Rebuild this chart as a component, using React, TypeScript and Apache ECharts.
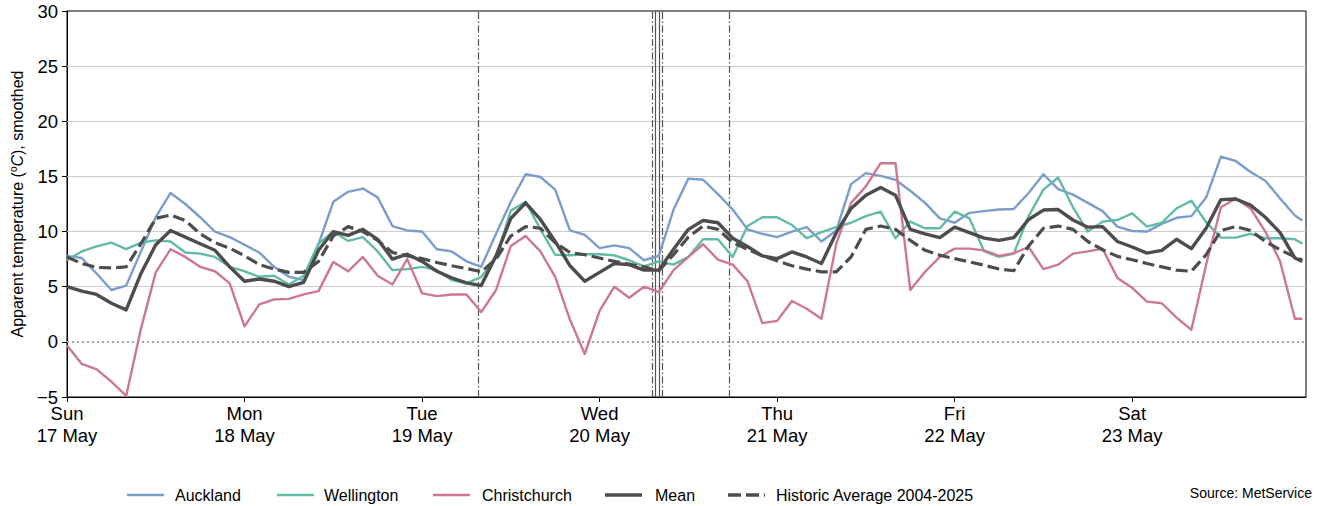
import React, { useEffect, useRef } from 'react';
import * as echarts from 'echarts';

// Hours since Sun 17 May 00:00
const HOURS = [
  0, 2, 4, 6, 8, 10, 12, 14, 16, 18, 20, 22, 24, 26, 28, 30, 32,
  34, 36, 38, 40, 42, 44, 46, 48, 50, 52, 54, 56, 58, 60, 62, 64,
  66, 68, 70, 72, 74, 76, 78, 80, 82, 84, 86, 88, 90, 92, 94, 96,
  98, 100, 102, 104, 106, 108, 110, 112, 114, 116, 118, 120, 122, 124, 126, 128, 130,
  132, 134, 136, 138, 140, 142, 144, 146, 148, 150, 152, 154, 156, 158, 160, 162, 164, 166, 167,
];

const AUCKLAND = [
  7.8, 7.6, 6.2, 4.7, 5.1, 8.2, 11.3, 13.5, 12.5, 11.3, 10.0, 9.5, 8.8, 8.1, 6.8, 5.9, 5.6,
  8.85, 12.7, 13.6, 13.9, 13.1, 10.5, 10.1, 10.0, 8.4, 8.2, 7.3, 6.8, 9.8, 12.7, 15.2, 14.95,
  13.8, 10.1, 9.7, 8.5, 8.75, 8.5, 7.4, 7.8, 12.0, 14.8, 14.7, 13.4, 12.0, 10.2, 9.8, 9.5,
  10.0, 10.4, 9.1, 10.1, 14.3, 15.3, 15.05, 14.7, 13.7, 12.6, 11.2, 10.8, 11.7, 11.85, 12.0, 12.05, 13.5,
  15.2, 13.85, 13.35, 12.6, 11.85, 10.45, 10.05, 10.0, 10.7, 11.25, 11.4, 13.1, 16.8, 16.4, 15.4, 14.6, 13.0, 11.45, 11.0,
];

const WELLINGTON = [
  7.4, 8.2, 8.65, 9.0, 8.4, 9.0, 9.2, 9.1, 8.1, 8.0, 7.7, 6.8, 6.4, 5.9, 6.0, 5.2, 6.0,
  8.9, 10.0, 9.15, 9.5, 8.2, 6.5, 6.6, 6.8, 6.5, 5.6, 5.3, 5.9, 7.6, 11.9, 12.7, 10.2,
  7.9, 7.85, 7.95, 7.95, 7.85, 7.4, 6.85, 7.3, 7.0, 7.7, 9.3, 9.3, 7.7, 10.5, 11.3, 11.3,
  10.6, 9.4, 9.95, 10.4, 10.8, 11.4, 11.8, 9.4, 10.9, 10.3, 10.3, 11.8, 11.2, 8.2, 7.7, 8.0, 11.4,
  13.8, 14.9, 12.2, 10.0, 10.9, 11.05, 11.65, 10.45, 10.8, 12.1, 12.8, 10.85, 9.45, 9.45, 9.8, 9.4, 9.4, 9.3, 8.9,
];

const CHRISTCHURCH = [
  -0.3, -2.0, -2.5, -3.6, -4.9, 1.2, 6.3, 8.4, 7.7, 6.8, 6.4, 5.3, 1.4, 3.4, 3.85, 3.9, 4.3,
  4.6, 7.25, 6.4, 7.7, 6.0, 5.2, 7.5, 4.4, 4.15, 4.3, 4.3, 2.7, 4.7, 8.7, 9.6, 8.2,
  5.9, 2.0, -1.1, 2.8, 5.0, 4.0, 5.0, 4.5, 6.5, 7.7, 8.85, 7.45, 7.0, 5.5, 1.7, 1.9,
  3.7, 3.0, 2.1, 8.9, 12.6, 14.1, 16.2, 16.2, 4.7, 6.35, 7.7, 8.45, 8.45, 8.3, 7.8, 8.05, 8.6,
  6.6, 7.0, 8.0, 8.2, 8.45, 5.8, 4.9, 3.65, 3.5, 2.2, 1.1, 7.0, 12.2, 13.0, 12.1, 10.0, 7.3, 2.1, 2.1,
];

const MEAN = [
  5.0, 4.6, 4.3, 3.5, 2.9, 6.2, 8.8, 10.1, 9.5, 8.9, 8.3, 6.8, 5.5, 5.7, 5.5, 5.0, 5.4,
  8.3, 10.0, 9.65, 10.2, 9.3, 7.5, 7.95, 7.3, 6.4, 5.8, 5.35, 5.1, 7.8, 11.2, 12.6, 11.1,
  9.1, 6.9, 5.5, 6.3, 7.1, 7.0, 6.5, 6.5, 8.4, 10.2, 11.0, 10.8, 9.4, 8.65, 7.8, 7.55,
  8.15, 7.7, 7.1, 9.9, 12.1, 13.3, 14.0, 13.3, 10.2, 9.8, 9.45, 10.4, 9.9, 9.4, 9.2, 9.45, 11.1,
  11.95, 12.0, 11.05, 10.4, 10.45, 9.1, 8.6, 8.05, 8.3, 9.3, 8.45, 10.3, 12.9, 12.95, 12.4, 11.3, 9.9, 7.6, 7.3,
];

const HISTORIC = [
  7.7, 7.1, 6.75, 6.7, 6.8, 8.9, 11.2, 11.5, 11.0, 9.8, 9.0, 8.5, 7.8, 7.0, 6.6, 6.3, 6.3,
  7.3, 9.6, 10.45, 10.0, 9.2, 8.1, 7.8, 7.55, 7.2, 6.9, 6.65, 6.35, 7.5, 9.6, 10.45, 10.3,
  9.0, 8.1, 7.9, 7.6, 7.3, 7.05, 6.8, 6.45, 7.9, 9.5, 10.5, 10.2, 9.0, 8.4, 7.8, 7.35,
  6.9, 6.6, 6.35, 6.35, 7.7, 10.2, 10.5, 10.2, 9.2, 8.3, 7.85, 7.55, 7.25, 6.95, 6.6, 6.45, 8.7,
  10.3, 10.5, 10.2, 9.1, 8.35, 7.75, 7.45, 7.1, 6.8, 6.5, 6.4, 7.9, 10.1, 10.45, 10.1, 9.1, 8.35, 7.7, 7.4,
];

const DAY_TICKS = [0, 24, 48, 72, 96, 120, 144];
const DAY_LABELS = ['Sun\n17 May', 'Mon\n18 May', 'Tue\n19 May', 'Wed\n20 May', 'Thu\n21 May', 'Fri\n22 May', 'Sat\n23 May'];
const GRID_VALUES = [5, 10, 15, 20, 25];
const DASHDOT_EVENTS = [55.56, 79.06, 80.49, 89.56];
const SOLID_EVENTS = [79.5, 80.09];

const NAMES = ['Auckland', 'Wellington', 'Christchurch', 'Mean', 'Historic Average 2004-2025'];
const COLORS = ['#7b9dcb', '#62bba9', '#cd7892', '#4d4d4d', '#4d4d4d'];

export default function App() {
  const ref = useRef<HTMLDivElement>(null);
  useEffect(() => {
    const chart = echarts.init(ref.current!, null, { renderer: 'svg' });
    const font = '"Liberation Sans", Arial, Helvetica, sans-serif';
    const pairs = (vals: number[]) => HOURS.map((h, i) => [h, vals[i]]);
    const dashDot = [7, 2.5, 1.5, 2.5];
    const histDash = [12, 5];
    const widths = [2.4, 2.4, 2.4, 3.4, 3.2];
    const dashes: any[] = ['solid', 'solid', 'solid', 'solid', histDash];
    const lineSeries = (i: number, vals: number[], z = 3) => ({
      type: 'line',
      name: NAMES[i],
      data: pairs(vals),
      symbol: 'none',
      showSymbol: false,
      z,
      lineStyle: { color: COLORS[i], width: widths[i], type: dashes[i], cap: 'butt', join: 'round' },
      itemStyle: { color: COLORS[i] },
      emphasis: { disabled: true },
    });

    // manual legend (layout positions)
    const legendLineX = [127, 277, 433, 605, 728];
    const legendTextX = [175, 324, 482, 655, 776];
    const legendY = 495;
    const legendGraphics: any[] = [];
    NAMES.forEach((name, i) => {
      legendGraphics.push({
        type: 'line',
        shape: { x1: legendLineX[i], y1: legendY, x2: legendLineX[i] + 37, y2: legendY },
        style: {
          stroke: COLORS[i],
          lineWidth: i >= 3 ? 3.5 : 2.6,
          lineDash: i === 4 ? [13, 5] : null,
        },
      });
      legendGraphics.push({
        type: 'text',
        x: legendTextX[i],
        y: legendY,
        style: {
          text: name, fontSize: 16, fontFamily: font, fill: '#000',
          align: 'left', verticalAlign: 'middle',
        },
      });
    });

    chart.setOption({
      animation: false,
      textStyle: { fontFamily: font },
      grid: {
        left: 67, right: 13, top: 11, bottom: 109,
        show: true, borderColor: '#000', borderWidth: 1, backgroundColor: 'transparent',
      },
      xAxis: {
        type: 'value', min: 0, max: 167.5,
        axisLine: { show: true, onZero: false, lineStyle: { color: '#000', width: 1 } },
        axisTick: { show: true, customValues: DAY_TICKS, length: 5, lineStyle: { color: '#000' } },
        axisLabel: {
          customValues: DAY_TICKS,
          formatter: (v: number) => DAY_LABELS[DAY_TICKS.indexOf(v)] ?? '',
          color: '#000', fontSize: 18.5, lineHeight: 22, margin: 5, fontFamily: font,
        },
        splitLine: { show: false },
      },
      yAxis: {
        type: 'value', min: -5, max: 30, interval: 5,
        name: 'Apparent temperature ({sup|o}{it|C}), smoothed',
        nameLocation: 'middle', nameGap: 41, nameRotate: 90,
        nameTextStyle: {
          color: '#000', fontSize: 16, lineHeight: 18, fontFamily: font,
          rich: {
            sup: { fontSize: 10, lineHeight: 10, verticalAlign: 'top', color: '#000', fontFamily: font },
            it: { fontSize: 16, fontStyle: 'italic', color: '#000', fontFamily: font },
          },
        },
        axisLine: { show: true, onZero: false, lineStyle: { color: '#000', width: 1 } },
        axisTick: { show: true, length: 5, lineStyle: { color: '#000' } },
        axisLabel: {
          color: '#000', fontSize: 18.5, margin: 9, fontFamily: font,
          formatter: (v: number) => (v < 0 ? '\u2212' + Math.abs(v) : String(v)),
        },
        splitLine: { show: false },
      },
      graphic: [
        ...legendGraphics,
        {
          type: 'text', right: 7, top: 486,
          style: { text: 'Source: MetService', fontSize: 14, fontFamily: font, fill: '#000' },
        },
      ],
      series: [
        {
          type: 'line', name: '_ref', data: [], silent: true, z: 1,
          markLine: {
            silent: true, symbol: 'none', label: { show: false }, z: 1, animation: false,
            emphasis: { disabled: true },
            data: [
              ...GRID_VALUES.map((v) => ({ yAxis: v, lineStyle: { color: '#cccccc', width: 1, type: 'solid' } })),
              { yAxis: 0, lineStyle: { color: '#a8a8a8', width: 2, type: [2, 3] } },
              ...DASHDOT_EVENTS.map((x) => ({ xAxis: x, lineStyle: { color: '#555', width: 1.2, type: dashDot } })),
              ...SOLID_EVENTS.map((x) => ({ xAxis: x, lineStyle: { color: '#555', width: 1.2, type: 'solid' } })),
            ],
          },
        },
        lineSeries(0, AUCKLAND),
        lineSeries(1, WELLINGTON),
        lineSeries(2, CHRISTCHURCH),
        lineSeries(3, MEAN, 5),
        lineSeries(4, HISTORIC, 4),
      ],
    });
    return () => chart.dispose();
  }, []);
  return <div ref={ref} style={{ position: 'absolute', left: 0, top: 0, width: 1319, height: 506 }} />;
}
